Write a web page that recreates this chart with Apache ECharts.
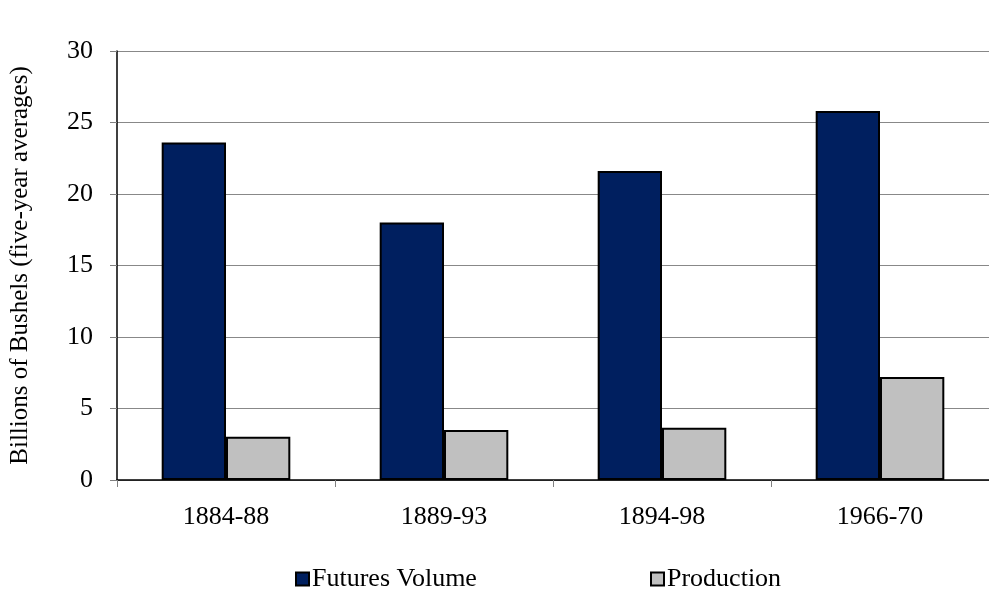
<!DOCTYPE html>
<html>
<head>
<meta charset="utf-8">
<script src="https://cdn.jsdelivr.net/npm/echarts@6/dist/echarts.min.js"></script>
<style>html,body{margin:0;padding:0;background:#fff}#c{width:989px;height:591px}</style>
</head>
<body>
<div id="c"></div>
<script>
const categories = ['1884-88', '1889-93', '1894-98', '1966-70'];
const futuresVolume = [23.6, 18.0, 21.6, 25.8];
const production = [3.03, 3.5, 3.65, 7.2];
const yTicks = [0, 5, 10, 15, 20, 25, 30];

const font = '"Liberation Serif", "Times New Roman", serif';
const chart = echarts.init(document.getElementById('c'));
chart.setOption({
  animation: false,
  backgroundColor: '#fff',
  textStyle: { fontFamily: font, color: '#000' },
  grid: { left: 113, top: 51, bottom: 111, width: 886, containLabel: false },
  legend: [
    { data: ['Futures Volume'], left: 290, top: 561, itemWidth: 13, itemHeight: 13, icon: 'rect',
      textStyle: { fontFamily: font, fontSize: 26, color: '#000', padding: [0,0,0,-2] } },
    { data: ['Production'], left: 645, top: 561, itemWidth: 13, itemHeight: 13, icon: 'rect',
      textStyle: { fontFamily: font, fontSize: 26, color: '#000', padding: [0,0,0,-2] } }
  ],
  xAxis: {
    type: 'category',
    data: categories,
    axisLine: { lineStyle: { color: '#000', width: 1.5 } },
    axisTick: { show: true, length: 7, lineStyle: { color: '#808080' } },
    axisLabel: { fontFamily: font, fontSize: 26, color: '#000', margin: 24 }
  },
  yAxis: {
    type: 'value',
    min: yTicks[0], max: yTicks[yTicks.length - 1], interval: 5,
    name: 'Billions of Bushels (five-year averages)',
    nameLocation: 'middle', nameGap: 84, nameRotate: 90,
    nameTextStyle: { fontFamily: font, fontSize: 25, color: '#000' },
    axisLine: { show: true, lineStyle: { color: '#000', width: 1.5 } },
    axisTick: { show: true, length: 7, lineStyle: { color: '#808080' } },
    axisLabel: { fontFamily: font, fontSize: 26, color: '#000', margin: 24 },
    splitLine: { show: true, lineStyle: { color: '#888', width: 1 } }
  },
  series: [
    { name: 'Futures Volume', type: 'bar', data: futuresVolume, barGap: '0%', barCategoryGap: '41%',
      itemStyle: { color: '#001F5F', borderColor: '#000', borderWidth: 2 } },
    { name: 'Production', type: 'bar', data: production, barGap: '0%', barCategoryGap: '41%',
      itemStyle: { color: '#C0C0C0', borderColor: '#000', borderWidth: 2 } }
  ]
});
</script>
</body>
</html>
